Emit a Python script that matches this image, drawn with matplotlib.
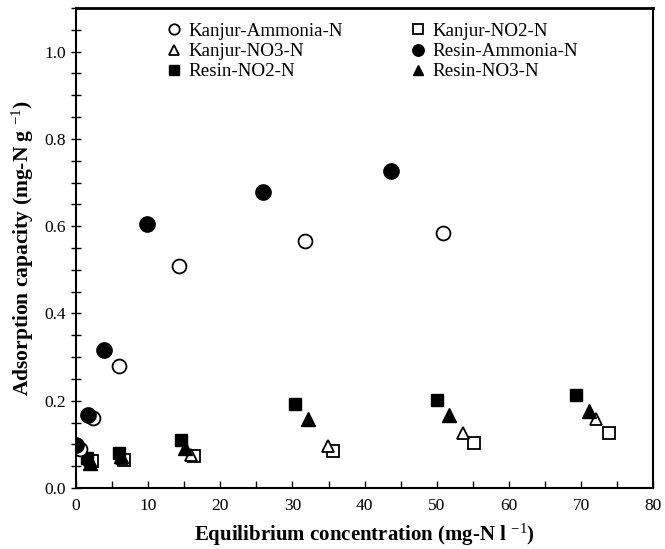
import numpy as np
import matplotlib
matplotlib.use("Agg")
import matplotlib.pyplot as plt

plt.rcParams['font.family'] = ['Liberation Serif', 'DejaVu Serif']
plt.rcParams['mathtext.fontset'] = 'custom'
plt.rcParams['mathtext.rm'] = 'Liberation Serif'
plt.rcParams['mathtext.it'] = 'Liberation Serif'
plt.rcParams['mathtext.bf'] = 'Liberation Serif:bold'

# data
kanjur_nh4_x = [0.5, 2.3, 5.9, 14.3, 31.7, 50.9]
kanjur_nh4_y = [0.090, 0.160, 0.280, 0.509, 0.565, 0.584]
resin_nh4_x = [0.0, 1.7, 3.9, 9.8, 25.9, 43.6]
resin_nh4_y = [0.098, 0.168, 0.317, 0.605, 0.678, 0.727]
kanjur_no2_x = [2.2, 6.6, 16.3, 35.6, 55.1, 73.9]
kanjur_no2_y = [0.062, 0.065, 0.073, 0.085, 0.103, 0.126]
kanjur_no3_x = [2.0, 6.4, 16.0, 34.9, 53.6, 72.1]
kanjur_no3_y = [0.065, 0.070, 0.075, 0.097, 0.127, 0.158]
resin_no2_x = [1.5, 5.9, 14.6, 30.3, 50.0, 69.3]
resin_no2_y = [0.070, 0.081, 0.110, 0.193, 0.202, 0.214]
resin_no3_x = [1.9, 6.2, 15.1, 32.2, 51.7, 71.1]
resin_no3_y = [0.057, 0.073, 0.092, 0.159, 0.167, 0.177]

fig = plt.figure(figsize=(6.65, 5.49), dpi=100)
ax = fig.add_axes([0.1143, 0.111, 0.868, 0.8744])

h_kno2, = ax.plot(kanjur_no2_x, kanjur_no2_y, 's', ms=9, mfc='white', mec='black', mew=1.3, ls='none', label='Kanjur-NO2-N')
h_kno3, = ax.plot(kanjur_no3_x, kanjur_no3_y, '^', ms=9, mfc='white', mec='black', mew=1.3, ls='none', label='Kanjur-NO3-N')
h_rno2, = ax.plot(resin_no2_x, resin_no2_y, 's', ms=9, color='black', ls='none', label='Resin-NO2-N')
h_rno3, = ax.plot(resin_no3_x, resin_no3_y, '^', ms=10, color='black', ls='none', label='Resin-NO3-N')
h_kam, = ax.plot(kanjur_nh4_x, kanjur_nh4_y, 'o', ms=10, mfc='white', mec='black', mew=1.3, ls='none', label='Kanjur-Ammonia-N')
h_ram, = ax.plot(resin_nh4_x, resin_nh4_y, 'o', ms=11, color='black', ls='none', label='Resin-Ammonia-N')

ax.set_xlim(0, 80)
ax.set_ylim(0, 1.1)
ax.set_xticks(np.arange(0, 81, 10))
ax.set_xticks(np.arange(0, 81, 5), minor=True)
ax.set_yticks(np.arange(0, 1.01, 0.2))
ax.set_yticks(np.arange(0, 1.11, 0.05), minor=True)
ax.yaxis.set_major_formatter(plt.FormatStrFormatter('%.1f'))
ax.tick_params(axis='x', which='both', direction='in', length=5, width=1, labelsize=12.5, pad=7)
ax.tick_params(axis='y', which='both', direction='inout', length=7, width=1, labelsize=12.5)
ax.tick_params(top=False, right=False)
for s in ax.spines.values():
    s.set_linewidth(1.5)
ax.spines['top'].set_linewidth(2)

ax.set_xlabel(r'Equilibrium concentration (mg-N l $^{-1}$)', fontsize=15, fontweight='bold', labelpad=6)
ax.set_ylabel(r'Adsorption capacity (mg-N g $^{-1}$)', fontsize=15.5, fontweight='bold', labelpad=6)

handles = [h_kam, h_kno3, h_rno2, h_kno2, h_ram, h_rno3]
ax.legend(handles, [h.get_label() for h in handles], ncol=2, frameon=False, fontsize=13.7,
          markerscale=0.75, handletextpad=0.3, handlelength=0.9, columnspacing=3.5,
          labelspacing=0.15, loc='upper left', bbox_to_anchor=(0.125, 1.005))

fig.savefig('out.png', dpi=100)
